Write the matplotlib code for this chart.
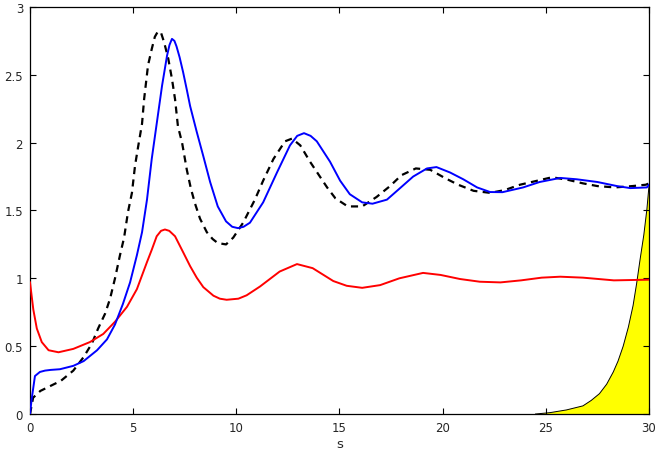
import numpy as np
from matplotlib import pyplot as plt

# blue solid curve
s_blue = [0, 0.08, 0.24, 0.48, 0.73, 1.0, 1.45, 2.1, 2.6, 3.25, 3.73, 4.12, 4.5, 4.85,
          5.18, 5.43, 5.67, 5.9, 6.15, 6.4, 6.64, 6.76, 6.88, 7.0, 7.1, 7.25, 7.42, 7.6,
          7.76, 8.08, 8.4, 8.73, 9.1, 9.5, 9.8, 10.08, 10.35, 10.66, 11.3, 11.97, 12.6,
          12.95, 13.28, 13.6, 13.9, 14.54, 15.03, 15.5, 16.1, 16.6, 17.3, 17.9, 18.57,
          19.24, 19.7, 20.36, 21.0, 21.67, 22.3, 22.9, 23.9, 24.7, 25.7, 26.5, 27.5,
          28.45, 29.1, 29.9, 30]
v_blue = [0, 0.11, 0.28, 0.31, 0.32, 0.325, 0.33, 0.355, 0.39, 0.47, 0.55, 0.66, 0.81, 0.97,
          1.17, 1.34, 1.58, 1.88, 2.15, 2.42, 2.64, 2.72, 2.765, 2.75, 2.71, 2.63, 2.52, 2.39,
          2.27, 2.08, 1.9, 1.71, 1.53, 1.42, 1.38, 1.37, 1.38, 1.41, 1.56, 1.78, 1.98,
          2.05, 2.07, 2.05, 2.01, 1.86, 1.72, 1.62, 1.56, 1.55, 1.58, 1.66, 1.75,
          1.81, 1.82, 1.78, 1.73, 1.67, 1.636, 1.635, 1.67, 1.71, 1.74, 1.73, 1.71,
          1.68, 1.665, 1.67, 1.69]

# black dashed curve
s_black = [0, 0.15, 0.5, 0.9, 1.5, 2.1, 2.6, 3.0, 3.3, 3.64, 3.88, 4.12, 4.36, 4.56, 4.75,
           4.94, 5.09, 5.24, 5.43, 5.53, 5.72, 5.9, 6.05, 6.2, 6.35, 6.5, 6.7, 6.88, 7.03,
           7.17, 7.37, 7.6, 7.8, 8.0, 8.24, 8.57, 8.85, 9.1, 9.5, 9.85, 10.33, 10.9, 11.3,
           11.8, 12.36, 12.7, 13.1, 13.57, 14.4, 14.8, 15.4, 16.1, 16.8, 17.45, 18.0, 18.7,
           19.4, 20.1, 20.75, 21.5, 22.3, 23.0, 23.75, 24.6, 25.3, 26.1, 26.8, 27.5, 28.35,
           29.2, 29.85, 30]
v_black = [0, 0.12, 0.17, 0.2, 0.245, 0.32, 0.42, 0.52, 0.63, 0.74, 0.85, 1.0, 1.17, 1.3, 1.49,
           1.63, 1.83, 1.97, 2.14, 2.32, 2.57, 2.69, 2.78, 2.82, 2.81, 2.74, 2.62, 2.47, 2.32,
           2.12, 2.0, 1.8, 1.66, 1.55, 1.44, 1.34, 1.29, 1.26, 1.25, 1.30, 1.41, 1.58, 1.72,
           1.88, 2.01, 2.03, 1.98, 1.86, 1.67, 1.59, 1.53, 1.53, 1.6, 1.68, 1.76, 1.81,
           1.80, 1.74, 1.69, 1.645, 1.63, 1.65, 1.69, 1.72, 1.745, 1.725, 1.70, 1.68, 1.67,
           1.68, 1.69, 1.70]

# red solid curve
s_red = [0, 0.16, 0.33, 0.57, 0.9, 1.38, 2.1, 2.9, 3.55, 4.12, 4.7, 5.18, 5.67, 5.9, 6.14,
         6.35, 6.54, 6.75, 7.03, 7.43, 7.76, 8.08, 8.4, 8.89, 9.2, 9.53, 10.1, 10.5, 11.15,
         12.1, 12.94, 13.7, 14.7, 15.35, 16.1, 16.97, 17.9, 19.05, 19.9, 20.84, 21.8, 22.8,
         23.8, 24.8, 25.7, 26.8, 28.3, 30]
v_red = [0.97, 0.77, 0.63, 0.53, 0.47, 0.455, 0.48, 0.53, 0.59, 0.68, 0.79, 0.92, 1.12, 1.21,
         1.31, 1.35, 1.36, 1.35, 1.31, 1.19, 1.09, 1.005, 0.935, 0.872, 0.85, 0.842, 0.85,
         0.875, 0.94, 1.05, 1.105, 1.075, 0.98, 0.945, 0.93, 0.95, 1.0, 1.04, 1.025, 0.995,
         0.975, 0.97, 0.985, 1.005, 1.012, 1.005, 0.985, 0.99]

# yellow filled region
s_fill = [24.5, 25.2, 26.0, 26.8, 27.2, 27.6, 27.95, 28.27, 28.5, 28.75, 29.0, 29.23, 29.4,
          29.57, 29.75, 29.9, 30]
v_fill = [0, 0.01, 0.03, 0.06, 0.1, 0.15, 0.22, 0.31, 0.39, 0.5, 0.64, 0.8, 0.96,
          1.14, 1.32, 1.51, 1.68]

fig = plt.figure(figsize=(6.61, 4.56), dpi=100)
ax = fig.add_axes([0.0454, 0.0899, 0.9364, 0.8926])

ax.fill_between(s_fill, 0, v_fill, facecolor='yellow', edgecolor='none', zorder=1)
ax.plot(s_fill, v_fill, color='black', linewidth=0.7, zorder=2)
ax.plot(s_black, v_black, color='black', linewidth=1.6, linestyle=(0, (3.2, 2.4)), zorder=3)
ax.plot(s_red, v_red, color='red', linewidth=1.4, zorder=4)
ax.plot(s_blue, v_blue, color='blue', linewidth=1.4, zorder=5)

ax.set_xlim(0, 30)
ax.set_ylim(0, 3)
ax.set_xticks([0, 5, 10, 15, 20, 25, 30])
ax.set_xticklabels(['0', '5', '10', '15', '20', '25', '30'])
ax.set_yticks([0, 0.5, 1, 1.5, 2, 2.5, 3])
ax.set_yticklabels(['0', '0.5', '1', '1.5', '2', '2.5', '3'])
ax.tick_params(direction='in', top=True, right=True, length=4, width=0.8,
               labelsize=8.5, labelcolor='#262626', pad=5)
for sp in ax.spines.values():
    sp.set_linewidth(0.9)
ax.set_xlabel('s', fontsize=9.5, color='#262626', labelpad=2)

plt.savefig('out.png', dpi=100)
